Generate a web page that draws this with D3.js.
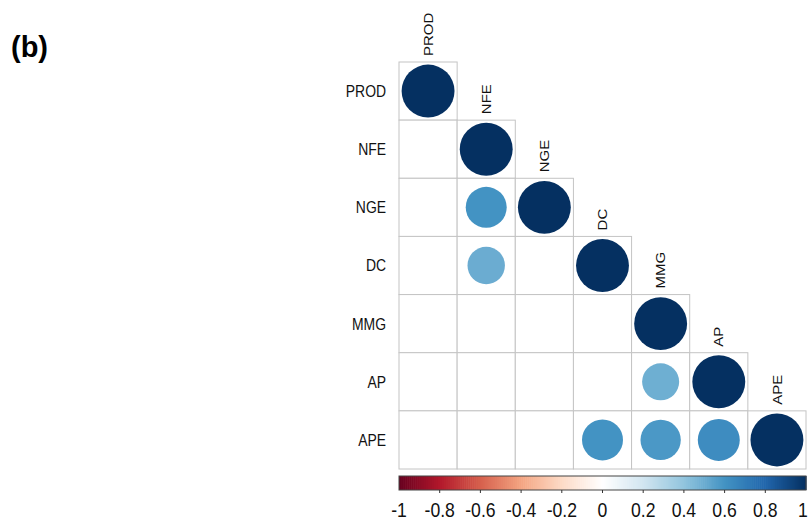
<!DOCTYPE html>
<html>
<head>
<meta charset="utf-8">
<script src="https://cdn.jsdelivr.net/npm/d3@7"></script>
<style>
  html, body { margin: 0; padding: 0; background: #fff; }
  svg { display: block; font-family: "Liberation Sans", Arial, sans-serif; }
</style>
</head>
<body>
<svg id="chart" width="809" height="520"></svg>
<script>
// Variables of the correlation matrix (lower triangle, significant cells only)
const variables = ["PROD", "NFE", "NGE", "DC", "MMG", "AP", "APE"];

// Correlation rows: row i holds r(variable i, variable j) for j <= i; null = blank cell
const rowPROD = [1];
const rowNFE  = [null, 1];
const rowNGE  = [null, 0.6, 1];
const rowDC   = [null, 0.5, null, 1];
const rowMMG  = [null, null, null, null, 1];
const rowAP   = [null, null, null, null, 0.49, 1];
const rowAPE  = [null, null, null, 0.6, 0.58, 0.63, 1];
const corrRows = [rowPROD, rowNFE, rowNGE, rowDC, rowMMG, rowAP, rowAPE];

// Colour legend ticks
const legendTicks = [-1, -0.8, -0.6, -0.4, -0.2, 0, 0.2, 0.4, 0.6, 0.8, 1];

// Diverging red-white-blue palette
const paletteStops = ["#67001F", "#B2182B", "#D6604D", "#F4A582", "#FDDBC7", "#FFFFFF",
                      "#D1E5F0", "#92C5DE", "#4393C3", "#2166AC", "#053061"];

const svg = d3.select("#chart");

const color = d3.scaleLinear()
  .domain(d3.range(paletteStops.length).map(i => -1 + 2 * i / (paletteStops.length - 1)))
  .range(paletteStops)
  .interpolate(d3.interpolateRgb);

const x = d3.scaleBand().domain(variables).range([399, 806]).padding(0);
const y = d3.scaleBand().domain(variables).range([62, 469]).padding(0);
const bw = x.bandwidth();
const radius = d3.scaleSqrt().domain([0, 1]).range([0, bw * 0.455]);

// Flatten to cells
const cells = [];
corrRows.forEach((row, i) => {
  row.forEach((v, j) => {
    cells.push({ row: variables[i], col: variables[j], value: v });
  });
});

// Grid cells
svg.append("g")
  .selectAll("rect")
  .data(cells)
  .join("rect")
  .attr("x", d => x(d.col))
  .attr("y", d => y(d.row))
  .attr("width", bw)
  .attr("height", bw)
  .attr("fill", "#fff")
  .attr("stroke", "#c4c4c4")
  .attr("stroke-width", 1);

// Circles
svg.append("g")
  .selectAll("circle")
  .data(cells.filter(d => d.value !== null))
  .join("circle")
  .attr("cx", d => x(d.col) + bw / 2)
  .attr("cy", d => y(d.row) + bw / 2)
  .attr("r", d => radius(Math.abs(d.value)))
  .attr("fill", d => color(d.value));

// Row labels
svg.append("g")
  .selectAll("text")
  .data(variables)
  .join("text")
  .attr("transform", d => `translate(386,${y(d) + bw / 2}) scale(0.87,1)`)
  .attr("text-anchor", "end")
  .attr("dominant-baseline", "central")
  .attr("font-size", 16)
  .attr("fill", "#111")
  .text(d => d);

// Column labels above the diagonal
svg.append("g")
  .selectAll("text")
  .data(variables)
  .join("text")
  .attr("transform", d => `translate(${x(d) + bw / 2},${y(d) - 6}) scale(0.87,1) rotate(-90)`)
  .attr("text-anchor", "start")
  .attr("dominant-baseline", "central")
  .attr("font-size", 15)
  .attr("fill", "#111")
  .text(d => d);

// Colour bar
const legendX = d3.scaleLinear().domain([-1, 1]).range([399, 806]);
const legendTop = 476, legendH = 14;
const steps = d3.range(0, 200);
const legend = svg.append("g");
legend.selectAll("rect.step")
  .data(steps)
  .join("rect")
  .attr("class", "step")
  .attr("x", i => legendX(-1 + 2 * i / 200))
  .attr("y", legendTop)
  .attr("width", (legendX(1) - legendX(-1)) / 200 + 0.6)
  .attr("height", legendH)
  .attr("fill", i => color(-1 + 2 * (i + 0.5) / 200));
legend.append("rect")
  .attr("x", legendX(-1))
  .attr("y", legendTop)
  .attr("width", legendX(1) - legendX(-1))
  .attr("height", legendH)
  .attr("fill", "none")
  .attr("stroke", "#444")
  .attr("stroke-width", 1);
legend.selectAll("line.tick")
  .data(legendTicks.slice(1, -1))
  .join("line")
  .attr("class", "tick")
  .attr("x1", d => legendX(d))
  .attr("x2", d => legendX(d))
  .attr("y1", legendTop + legendH)
  .attr("y2", legendTop + legendH + 3)
  .attr("stroke", "#333");
legend.selectAll("text")
  .data(legendTicks)
  .join("text")
  .attr("transform", d => `translate(${Math.min(legendX(d), 803)},517) scale(0.88,1)`)
  .attr("text-anchor", "middle")
  .attr("font-size", 20)
  .attr("fill", "#111")
  .text(d => String(d));

// Panel tag
svg.append("text")
  .attr("x", 11)
  .attr("y", 57)
  .attr("font-size", 29)
  .attr("font-weight", "bold")
  .attr("fill", "#000")
  .text("(b)");
</script>
</body>
</html>
